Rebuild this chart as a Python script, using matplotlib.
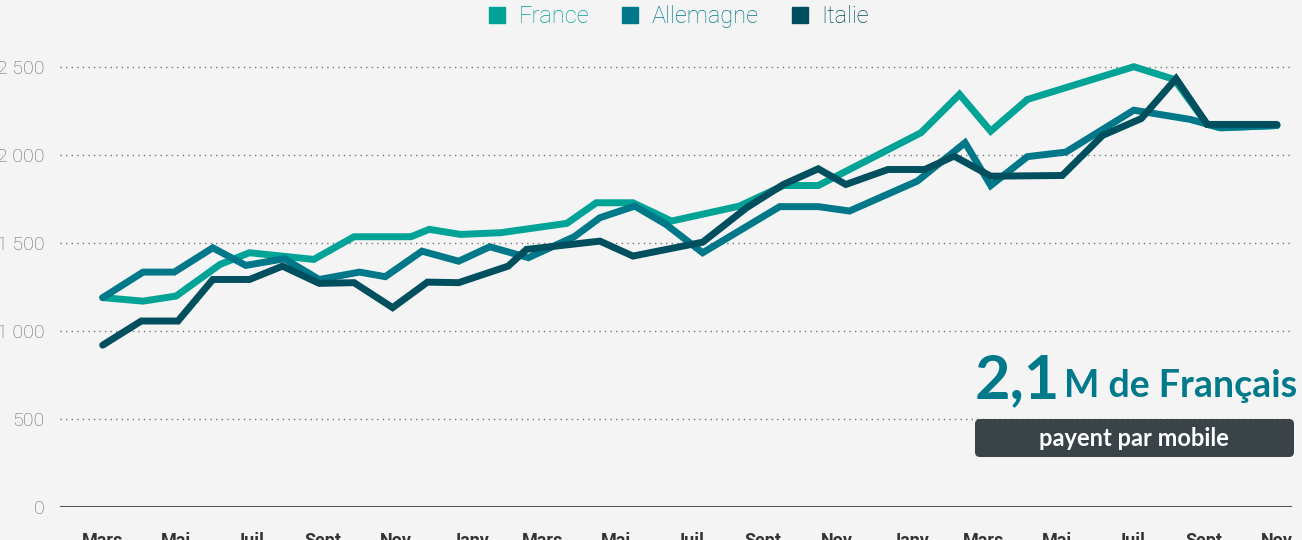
import matplotlib.pyplot as plt
from matplotlib.lines import Line2D
from matplotlib.patches import FancyBboxPatch
from matplotlib.transforms import IdentityTransform

# Data (x = months counted from the first "Mars")
x_france = [0, 1.1, 2.0, 3.2, 4.0, 5.75, 6.85, 8.4, 8.9, 9.75, 10.85, 12.65, 13.45,
            14.45, 15.5, 17.35, 18.55, 19.5, 22.3, 23.35, 24.2, 25.2, 28.1, 29.2,
            30.1, 30.5, 32]
france = [1188, 1168, 1197, 1377, 1443, 1405, 1534, 1534, 1576, 1547, 1557, 1610, 1727,
          1727, 1623, 1708, 1825, 1825, 2125, 2343, 2134, 2314, 2500, 2428,
          2172, 2153, 2166]

x_allemagne = [0, 1.1, 1.95, 3.0, 3.9, 4.95, 5.9, 7.0, 7.7, 8.7, 9.7, 10.55, 11.6,
               12.85, 13.55, 14.5, 15.35, 16.35, 18.45, 19.5, 20.35, 22.2, 23.5,
               24.2, 25.2, 26.25, 28.1, 29.65, 30.45, 32]
allemagne = [1188, 1333, 1333, 1471, 1371, 1409, 1291, 1333, 1307, 1452, 1395, 1477, 1415,
             1534, 1642, 1708, 1604, 1443, 1705, 1705, 1680, 1850, 2068,
             1825, 1989, 2015, 2253, 2200, 2153, 2166]

x_italie = [0, 1.05, 2.05, 3.0, 4.0, 4.9, 5.9, 6.85, 7.9, 8.85, 9.7, 11.05, 11.55,
            13.55, 14.45, 16.35, 17.55, 18.55, 19.5, 20.25, 21.4, 22.4, 23.2,
            24.2, 26.15, 27.25, 28.3, 29.25, 30.1, 32]
italie = [918, 1055, 1055, 1291, 1291, 1367, 1269, 1273, 1131, 1276, 1273, 1367, 1462,
          1509, 1424, 1503, 1699, 1831, 1920, 1831, 1916, 1916, 1992,
          1878, 1882, 2110, 2205, 2432, 2172, 2172]

tick_pos = list(range(0, 33, 2))
tick_labels = ['Mars', 'Mai', 'Juil', 'Sept', 'Nov', 'Janv', 'Mars', 'Mai', 'Juil',
               'Sept', 'Nov', 'Janv', 'Mars', 'Mai', 'Juil', 'Sept', 'Nov']
y_ticks = [0, 500, 1000, 1500, 2000, 2500]
y_labels = ['0', '500', '1 000', '1 500', '2 000', '2 500']

c_fr = '#00A396'
c_al = '#00788A'
c_it = '#004F5F'
bg = '#F4F4F4'

W, H = 1302, 540
fig = plt.figure(figsize=(W / 100, H / 100), dpi=100, facecolor=bg)
ax = fig.add_axes([60 / W, 1 - 506.7 / H, (1292 - 60) / W, (506.7 - 45.6) / H])
ax.set_facecolor(bg)

for xs, ys, c in [(x_france, france, c_fr), (x_allemagne, allemagne, c_al), (x_italie, italie, c_it)]:
    ax.plot(xs, ys, color=c, lw=5, solid_joinstyle='miter', solid_capstyle='round',
            clip_on=False, zorder=3)

ax.set_xlim(-1.164, 32.41)
ax.set_ylim(0, 2620)

for v in y_ticks[1:]:
    ax.axhline(v, color='#777777', lw=1, ls=(0, (1, 3)), zorder=1)
ax.axhline(0, color='#555555', lw=1.5, zorder=2)

for s in ax.spines.values():
    s.set_visible(False)

ax.set_yticks(y_ticks)
ax.set_yticklabels(y_labels, fontsize=14, color='#666666', family='Roboto', fontweight='light')
ax.set_xticks(tick_pos)
ax.set_xticklabels(tick_labels, fontsize=13, color='#333333', family='Roboto', fontweight='bold')
ax.tick_params(axis='y', length=0, pad=11)
ax.tick_params(axis='x', length=0, pad=18)

# legend
handles = [Line2D([], [], ls='', marker='s', ms=11, color=c) for c in (c_fr, c_al, c_it)]
fig.legend(handles, ['France', 'Allemagne', 'Italie'], loc='upper center',
           bbox_to_anchor=(0.52, 1.03), ncol=3, frameon=False, handletextpad=0.4,
           columnspacing=1.25, handlelength=1.0, labelcolor=[c_fr, c_al, c_it],
           prop={'family': 'Roboto', 'weight': 'light', 'size': 17})

# annotation
fig.text(975 / W, 1 - 398 / H, '2,1', fontsize=44, fontweight='bold', color='#007A8A',
         family='Lato', ha='left', va='baseline')
fig.text(1297 / W, 1 - 397 / H, 'M de Français', fontsize=27, fontweight='bold',
         color='#007A8A', family='Lato', ha='right', va='baseline')
box = FancyBboxPatch((975, H - 457), 319, 38, boxstyle='round,pad=0,rounding_size=5',
                     transform=IdentityTransform(), facecolor='#3A4448', edgecolor='none')
fig.patches.append(box)
fig.text(1134 / W, 1 - 438 / H, 'payent par mobile', fontsize=17, fontweight='bold',
         color='white', family='Lato', ha='center', va='center')

fig.savefig('out.png', dpi=100, facecolor=bg)
